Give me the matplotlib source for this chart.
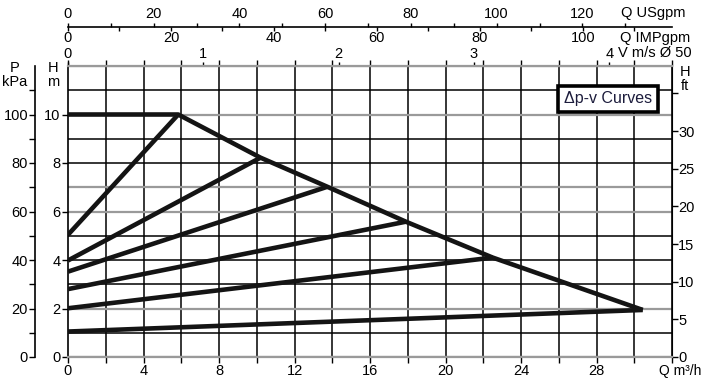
import numpy as np
import matplotlib.pyplot as plt

plt.rcParams['font.family'] = ['Liberation Sans', 'DejaVu Sans']
plt.rcParams['font.size'] = 10.5

# max curve, Q m3/h vs H m
max_q = [0, 5.84, 10.2, 13.74, 17.9, 22.5, 30.45]
max_h = [10.0, 10.0, 8.22, 7.02, 5.58, 4.1, 1.94]

# dp-v lines: head at Q=0, and end point on the max curve
dpv_h0 = [5.04, 3.98, 3.52, 2.80, 2.01, 1.05]
dpv_q1 = [5.84, 10.2, 13.74, 17.9, 22.5, 30.45]
dpv_h1 = [10.0, 8.22, 7.02, 5.58, 4.1, 1.94]

# scale factors
US_PER_M3H = 4.403
IMP_PER_M3H = 3.666
M3H_PER_MS = 7.17
KPA_PER_M = 10.0
FT_PER_M = 3.22

grey_rows = [0, 2, 6, 7, 10, 12]

W, H = 702, 378
fig = plt.figure(figsize=(W / 100, H / 100), dpi=100)
l, r, b, t = 68, 672, 357, 66
rect = [l / W, (H - b) / H, (r - l) / W, (b - t) / H]
ax = fig.add_axes(rect)
ax.set_xlim(0, 32)
ax.set_ylim(0, 12)

# grid
for q in range(2, 32, 2):
    ax.axvline(q, color='black', lw=1.1, zorder=1)
for h in range(0, 13):
    if h in grey_rows:
        ax.axhline(h, color='#9a9a9a', lw=1.6, zorder=1)
    else:
        ax.axhline(h, color='black', lw=1.1, zorder=1)

for s in ['left', 'right']:
    ax.spines[s].set_color('black')
    ax.spines[s].set_linewidth(1.2)
for s in ['top', 'bottom']:
    ax.spines[s].set_color('#9a9a9a')
    ax.spines[s].set_linewidth(1.6)

# curves
kw = dict(color='#141414', lw=3.3, solid_joinstyle='round', solid_capstyle='butt', zorder=3)
ax.plot(max_q, max_h, **kw)
for h0, q1, h1 in zip(dpv_h0, dpv_q1, dpv_h1):
    ax.plot([0, q1], [h0, h1], **kw)

# bottom / top ticks of Q m3/h
ax.set_xticks(np.arange(0, 33, 2))
ax.set_xticklabels([str(q) if q % 4 == 0 and q < 32 else '' for q in range(0, 33, 2)])
ax.tick_params(axis='x', direction='out', length=4.5, width=1, color='black',
               top=True, bottom=True, labeltop=False, pad=0.5)
ax.set_yticks([0, 2, 4, 6, 8, 10])
ax.tick_params(axis='y', direction='out', length=4.5, width=1, pad=1)

# P kPa axis on the far left
ax_p = ax.secondary_yaxis(-(l - 35) / (r - l), functions=(lambda m: m * KPA_PER_M, lambda p: p / KPA_PER_M))
ax_p.set_yticks([0, 20, 40, 60, 80, 100])
ax_p.set_yticks([10, 30, 50, 70, 90, 110], minor=True)
ax_p.tick_params(which='both', direction='out', length=4, width=1, pad=1)
ax_p.spines['left'].set_linewidth(1.2)

# H ft axis on the right
ax_ft = ax.secondary_yaxis('right', functions=(lambda m: m * FT_PER_M, lambda f: f / FT_PER_M))
ax_ft.set_yticks([0, 5, 10, 15, 20, 25, 30])
ax_ft.set_yticks([35], minor=True)
ax_ft.tick_params(which='both', direction='out', length=4, width=1, pad=0.5)

# V m/s axis on top
ax_v = ax.secondary_xaxis('top', functions=(lambda q: q / M3H_PER_MS, lambda v: v * M3H_PER_MS))
ax_v.set_xticks([0, 1, 2, 3, 4])
ax_v.tick_params(direction='out', length=3, width=1, pad=0.5)
ax_v.spines['top'].set_visible(False)

# USgpm / IMPgpm scale line
yline = (H - 27) / H
ax_us = fig.add_axes([l / W, yline, (r - l) / W, 0.0001])
ax_us.set_xlim(0, 32 * US_PER_M3H)
ax_us.set_xticks(np.arange(0, 121, 20))
ax_us.set_xticks(np.arange(10, 140, 20), minor=True)
ax_us.xaxis.set_ticks_position('top')
ax_us.tick_params(axis='x', which='both', direction='out', length=3, width=1, pad=1.2)
ax_us.set_yticks([])
for s in ['left', 'right', 'bottom']:
    ax_us.spines[s].set_visible(False)
ax_us.spines['top'].set_linewidth(1.2)

ax_imp = fig.add_axes([l / W, yline, (r - l) / W, 0.0001])
ax_imp.set_xlim(0, 32 * IMP_PER_M3H)
ax_imp.set_xticks(np.arange(0, 101, 20))
ax_imp.set_xticks(np.arange(10, 111, 20), minor=True)
ax_imp.tick_params(axis='x', which='both', direction='out', length=3, width=1, pad=0)
ax_imp.set_yticks([])
ax_imp.patch.set_visible(False)
for s in ax_imp.spines.values():
    s.set_visible(False)

# axis names
fig.text(621 / W, 1 - 13 / H, 'Q USgpm', ha='left', va='center')
fig.text(620 / W, 1 - 38 / H, 'Q IMPgpm', ha='left', va='center')
fig.text(618 / W, 1 - 53 / H, 'V m/s Ø 50', ha='left', va='center')
fig.text(15 / W, 1 - 75 / H, 'P\nkPa', ha='center', va='center', linespacing=1.0)
fig.text(53 / W, 1 - 75 / H, 'H\nm', ha='center', va='center', linespacing=1.0)
fig.text(685 / W, 1 - 79 / H, 'H\nft', ha='center', va='center', linespacing=1.0)
fig.text(701 / W, 1 - 371.5 / H, 'Q m³/h', ha='right', va='center', fontsize=10)

fig.text(608 / W, 1 - 99 / H, 'Δp-v Curves', ha='center', va='center', fontsize=11.5,
         color='#1c1c3c', family=['Liberation Sans Narrow', 'Liberation Sans', 'DejaVu Sans'],
         bbox=dict(boxstyle='square,pad=0.35', fc='white', ec='black', lw=2.6))

fig.savefig('out.png', dpi=100)
